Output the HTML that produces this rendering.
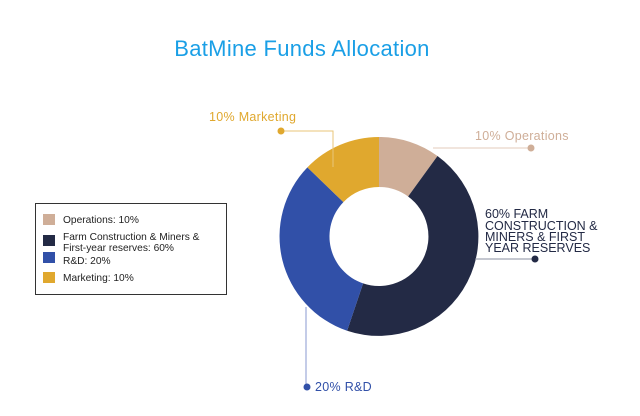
<!DOCTYPE html>
<html><head><style>
body{margin:0;background:#fff;width:640px;height:411px;overflow:hidden;font-family:"Liberation Sans",sans-serif}
</style></head><body>
<svg width="640" height="411" xmlns="http://www.w3.org/2000/svg" font-family="Liberation Sans, sans-serif">
<text x="302" y="56" text-anchor="middle" font-size="22" letter-spacing="0.3" fill="#1a9fe6">BatMine Funds Allocation</text>
<path d="M379,137 A99.5,99.5 0 0 1 437.5,156 L408.1,196.5 A49.5,49.5 0 0 0 379,187 Z" fill="#cfae98"/>
<path d="M437.5,156 A99.5,99.5 0 0 1 347.1,330.7 L363.1,283.4 A49.5,49.5 0 0 0 408.1,196.5 Z" fill="#232a45"/>
<path d="M347.1,330.7 A99.5,99.5 0 0 1 307.4,167.4 L343.4,202.1 A49.5,49.5 0 0 0 363.1,283.4 Z" fill="#3150a8"/>
<path d="M307.4,167.4 A99.5,99.5 0 0 1 379,137 L379,187 A49.5,49.5 0 0 0 343.4,202.1 Z" fill="#e0a82e"/>
<polyline points="281,131 333,131 333,167" fill="none" stroke="#e8c67a" stroke-width="1"/>
<circle cx="281" cy="131" r="3.5" fill="#e0a82e"/>
<text x="209" y="121" font-size="12.5" letter-spacing="0.3" fill="#e0a82e">10% Marketing</text>
<line x1="433" y1="148" x2="531" y2="148" stroke="#e3cbbb" stroke-width="1"/>
<circle cx="531" cy="148" r="3.5" fill="#cfae98"/>
<text x="475" y="140" font-size="12.5" letter-spacing="0.3" fill="#cfae98">10% Operations</text>
<line x1="475" y1="259" x2="535" y2="259" stroke="#8a8fa0" stroke-width="1"/>
<circle cx="535" cy="259" r="3.5" fill="#232a45"/>
<g font-size="12.5" fill="#232a45">
<text x="485" y="218">60% FARM</text>
<text x="485" y="230">CONSTRUCTION &amp;</text>
<text x="485" y="241">MINERS &amp; FIRST</text>
<text x="485" y="252">YEAR RESERVES</text>
</g>
<line x1="306" y1="307" x2="306" y2="387" stroke="#8a9ad0" stroke-width="1"/>
<circle cx="307" cy="387" r="3.5" fill="#3150a8"/>
<text x="315" y="391" font-size="12.5" letter-spacing="0.3" fill="#3150a8">20% R&amp;D</text>
<rect x="35.5" y="203.5" width="191" height="91" fill="#fff" stroke="#333" stroke-width="1"/>
<rect x="43" y="214" width="12" height="11" fill="#cfae98"/>
<rect x="43" y="235" width="12" height="11" fill="#232a45"/>
<rect x="43" y="252" width="12" height="11" fill="#3150a8"/>
<rect x="43" y="272" width="12" height="11" fill="#e0a82e"/>
<g font-size="10.2" fill="#222">
<text x="63" y="223">Operations: 10%</text>
<text x="63" y="240">Farm Construction &amp; Miners &amp;</text>
<text x="63" y="251">First-year reserves: 60%</text>
<text x="63" y="264">R&amp;D: 20%</text>
<text x="63" y="281">Marketing: 10%</text>
</g>
</svg>
</body></html>
